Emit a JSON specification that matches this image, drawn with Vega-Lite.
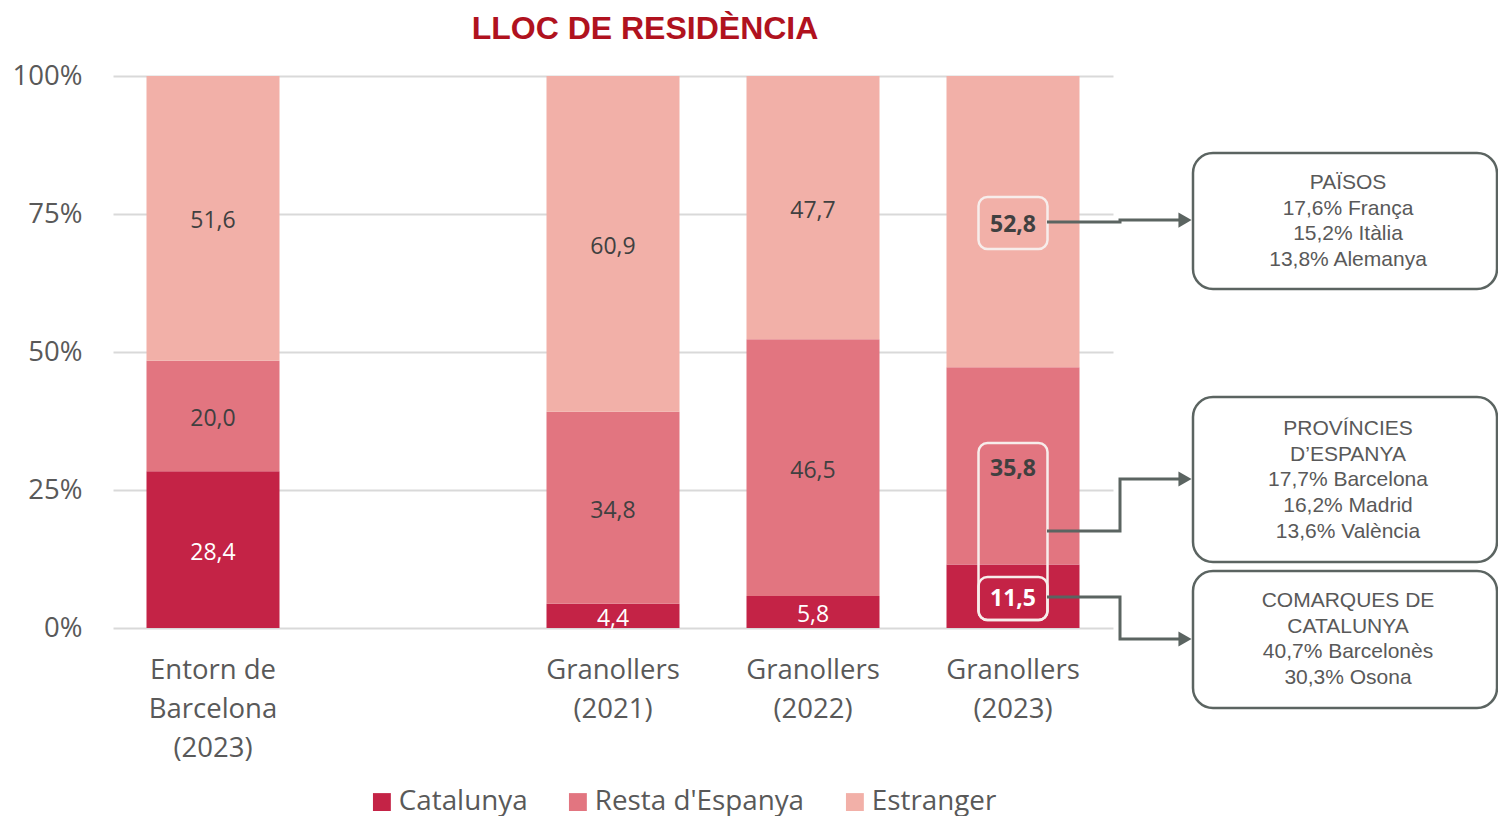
{
  "$schema": "https://vega.github.io/schema/vega-lite/v6.json",
  "autosize": "none",
  "width": 1000,
  "height": 552,
  "padding": {"left": 113, "top": 76, "right": 385, "bottom": 188},
  "background": "white",
  "title": {
    "text": "LLOC DE RESIDÈNCIA",
    "font": "Liberation Sans",
    "fontSize": 32,
    "fontWeight": "bold",
    "color": "#B0121E",
    "anchor": "middle",
    "frame": "group",
    "dx": 32,
    "dy": 33,
    "baseline": "alphabetic",
    "offset": 24
  },
  "datasets": {
    "bars": [
      {"cat": "Entorn de Barcelona (2023)", "origin": "Catalunya", "pct": 28.4, "ordre": 1},
      {"cat": "Entorn de Barcelona (2023)", "origin": "Resta d'Espanya", "pct": 20.0, "ordre": 2},
      {"cat": "Entorn de Barcelona (2023)", "origin": "Estranger", "pct": 51.6, "ordre": 3},
      {"cat": "Granollers (2021)", "origin": "Catalunya", "pct": 4.4, "ordre": 1},
      {"cat": "Granollers (2021)", "origin": "Resta d'Espanya", "pct": 34.8, "ordre": 2},
      {"cat": "Granollers (2021)", "origin": "Estranger", "pct": 60.9, "ordre": 3},
      {"cat": "Granollers (2022)", "origin": "Catalunya", "pct": 5.8, "ordre": 1},
      {"cat": "Granollers (2022)", "origin": "Resta d'Espanya", "pct": 46.5, "ordre": 2},
      {"cat": "Granollers (2022)", "origin": "Estranger", "pct": 47.7, "ordre": 3},
      {"cat": "Granollers (2023)", "origin": "Catalunya", "pct": 11.5, "ordre": 1},
      {"cat": "Granollers (2023)", "origin": "Resta d'Espanya", "pct": 35.8, "ordre": 2},
      {"cat": "Granollers (2023)", "origin": "Estranger", "pct": 52.8, "ordre": 3}
    ],
    "highlights": [
      {"cat": "Granollers (2023)", "y1": 0.6866, "y2": 0.7808},
      {"cat": "Granollers (2023)", "y1": 0.0145, "y2": 0.3351},
      {"cat": "Granollers (2023)", "y1": 0.0145, "y2": 0.0924}
    ],
    "connectors": [
      {"line": "paisos", "seq": 1, "x": 4.67, "y": 0.7355},
      {"line": "paisos", "seq": 2, "x": 5.035, "y": 0.7355},
      {"line": "paisos", "seq": 3, "x": 5.035, "y": 0.739},
      {"line": "paisos", "seq": 4, "x": 5.34, "y": 0.739},
      {"line": "provincies", "seq": 1, "x": 4.67, "y": 0.1757},
      {"line": "provincies", "seq": 2, "x": 5.035, "y": 0.1757},
      {"line": "provincies", "seq": 3, "x": 5.035, "y": 0.270},
      {"line": "provincies", "seq": 4, "x": 5.34, "y": 0.270},
      {"line": "comarques", "seq": 1, "x": 4.67, "y": 0.0562},
      {"line": "comarques", "seq": 2, "x": 5.035, "y": 0.0562},
      {"line": "comarques", "seq": 3, "x": 5.035, "y": -0.0199},
      {"line": "comarques", "seq": 4, "x": 5.34, "y": -0.0199}
    ],
    "arrows": [
      {"line": "paisos", "x": 5.36, "y": 0.739},
      {"line": "provincies", "x": 5.36, "y": 0.270},
      {"line": "comarques", "x": 5.36, "y": -0.0199}
    ],
    "boxes": [
      {"box": "paisos", "x1": 5.4, "x2": 6.92, "y1": 0.6141, "y2": 0.8605, "ytext": 0.8062, "xc": 6.175,
       "text": "PAÏSOS\n17,6% França\n15,2% Itàlia\n13,8% Alemanya"},
      {"box": "provincies", "x1": 5.4, "x2": 6.92, "y1": 0.1196, "y2": 0.4185, "ytext": 0.3605, "xc": 6.175,
       "text": "PROVÍNCIES\nD’ESPANYA\n17,7% Barcelona\n16,2% Madrid\n13,6% València"},
      {"box": "comarques", "x1": 5.4, "x2": 6.92, "y1": -0.1449, "y2": 0.1033, "ytext": 0.0489, "xc": 6.175,
       "text": "COMARQUES DE\nCATALUNYA\n40,7% Barcelonès\n30,3% Osona"}
    ]
  },
  "layer": [
    {
      "data": {"name": "bars"},
      "layer": [
        {
          "mark": {"type": "bar"},
          "encoding": {
            "x": {
              "field": "cat", "type": "nominal", "title": null,
              "scale": {
                "domain": ["Entorn de Barcelona (2023)", " ", "Granollers (2021)", "Granollers (2022)", "Granollers (2023)"],
                "paddingInner": 0.335, "paddingOuter": 0.1675
              },
              "axis": {
                "domain": false, "ticks": false, "labelAngle": 0,
                "labelFont": "Open Sans", "labelFontSize": 27.5, "labelColor": "#595959",
                "labelPadding": 28, "labelLineHeight": 39, "labelBaseline": "top",
                "labelExpr": "datum.value == 'Entorn de Barcelona (2023)' ? ['Entorn de', 'Barcelona', '(2023)'] : split(datum.value, ' ')"
              }
            },
            "y": {
              "field": "pct", "type": "quantitative", "stack": "normalize", "title": null,
              "scale": {"domain": [0, 1], "nice": false},
              "axis": {
                "values": [0, 0.25, 0.5, 0.75, 1], "format": ".0%",
                "domain": false, "ticks": false, "grid": true,
                "gridColor": "#D9D9D9", "gridWidth": 2,
                "labelFont": "Open Sans", "labelFontSize": 27.5, "labelColor": "#595959",
                "labelPadding": 31
              }
            },
            "color": {
              "field": "origin", "type": "nominal",
              "scale": {
                "domain": ["Catalunya", "Resta d'Espanya", "Estranger"],
                "range": ["#C42346", "#E27580", "#F2B0A8"]
              },
              "legend": {
                "title": null, "orient": "none", "direction": "horizontal",
                "legendX": 255, "legendY": 712,
                "symbolType": "square", "symbolSize": 320, "symbolStrokeWidth": 0,
                "labelFont": "Open Sans", "labelFontSize": 27.8, "labelColor": "#595959",
                "labelLimit": 400, "labelOffset": 3, "columnPadding": 36
              }
            },
            "order": {"field": "ordre", "type": "quantitative"}
          }
        },
        {
          "transform": [{"filter": "datum.cat != 'Granollers (2023)'"}],
          "mark": {"type": "text", "font": "Open Sans", "fontSize": 23, "baseline": "middle", "dy": 3},
          "encoding": {
            "x": {"field": "cat", "type": "nominal"},
            "y": {"field": "pct", "type": "quantitative", "stack": "normalize", "bandPosition": 0.5, "scale": {"domain": [0, 1], "nice": false}},
            "detail": {"field": "origin", "type": "nominal"},
            "order": {"field": "ordre", "type": "quantitative"},
            "text": {"field": "pct", "type": "quantitative", "format": ".1f"},
            "color": {"condition": {"test": "datum.origin === 'Catalunya'", "value": "#FFFFFF"}, "value": "#404040"}
          }
        },
        {
          "transform": [{"filter": "datum.cat == 'Granollers (2023)'"}],
          "mark": {"type": "text", "font": "Open Sans", "fontSize": 23, "fontWeight": "bold", "baseline": "middle", "dy": 3},
          "encoding": {
            "x": {"field": "cat", "type": "nominal"},
            "y": {"field": "pct", "type": "quantitative", "stack": "normalize", "bandPosition": 0.5, "scale": {"domain": [0, 1], "nice": false}},
            "detail": {"field": "origin", "type": "nominal"},
            "order": {"field": "ordre", "type": "quantitative"},
            "text": {"field": "pct", "type": "quantitative", "format": ".1f"},
            "color": {"condition": {"test": "datum.origin === 'Catalunya'", "value": "#FFFFFF"}, "value": "#404040"}
          }
        },
        {
          "data": {"name": "highlights"},
          "mark": {"type": "bar", "width": 69, "cornerRadius": 9, "fill": "transparent", "stroke": "#F7EDEB", "strokeWidth": 2.5},
          "encoding": {
            "x": {"field": "cat", "type": "nominal"},
            "y": {"field": "y1", "type": "quantitative", "scale": {"domain": [0, 1], "nice": false}},
            "y2": {"field": "y2"}
          }
        }
      ]
    },
    {
      "layer": [
        {
          "data": {"name": "connectors"},
          "mark": {"type": "line", "color": "#5B6461", "strokeWidth": 3, "interpolate": "linear"},
          "encoding": {
            "x": {"field": "x", "type": "quantitative", "scale": {"domain": [0, 5], "nice": false, "zero": false}, "axis": null},
            "y": {"field": "y", "type": "quantitative", "scale": {"domain": [0, 1], "nice": false}},
            "detail": {"field": "line", "type": "nominal"},
            "order": {"field": "seq", "type": "quantitative"}
          }
        },
        {
          "data": {"name": "arrows"},
          "mark": {"type": "point", "shape": "triangle-right", "filled": true, "color": "#5B6461", "opacity": 1, "size": 230},
          "encoding": {
            "x": {"field": "x", "type": "quantitative"},
            "y": {"field": "y", "type": "quantitative"}
          }
        },
        {
          "data": {"name": "boxes"},
          "mark": {"type": "rect", "fill": "white", "stroke": "#5B6461", "strokeWidth": 2.5, "cornerRadius": 20},
          "encoding": {
            "x": {"field": "x1", "type": "quantitative"},
            "x2": {"field": "x2"},
            "y": {"field": "y1", "type": "quantitative"},
            "y2": {"field": "y2"}
          }
        },
        {
          "data": {"name": "boxes"},
          "mark": {"type": "text", "font": "Liberation Sans", "fontSize": 21, "color": "#595959", "align": "center", "baseline": "middle", "lineBreak": "\n", "lineHeight": 25.7},
          "encoding": {
            "x": {"field": "xc", "type": "quantitative"},
            "y": {"field": "ytext", "type": "quantitative"},
            "text": {"field": "text", "type": "nominal"}
          }
        }
      ]
    }
  ],
  "resolve": {"scale": {"x": "independent"}, "axis": {"x": "independent"}},
  "config": {
    "view": {"stroke": null},
    "locale": {"number": {"decimal": ",", "thousands": ".", "grouping": [3], "currency": ["", " €"]}}
  }
}
